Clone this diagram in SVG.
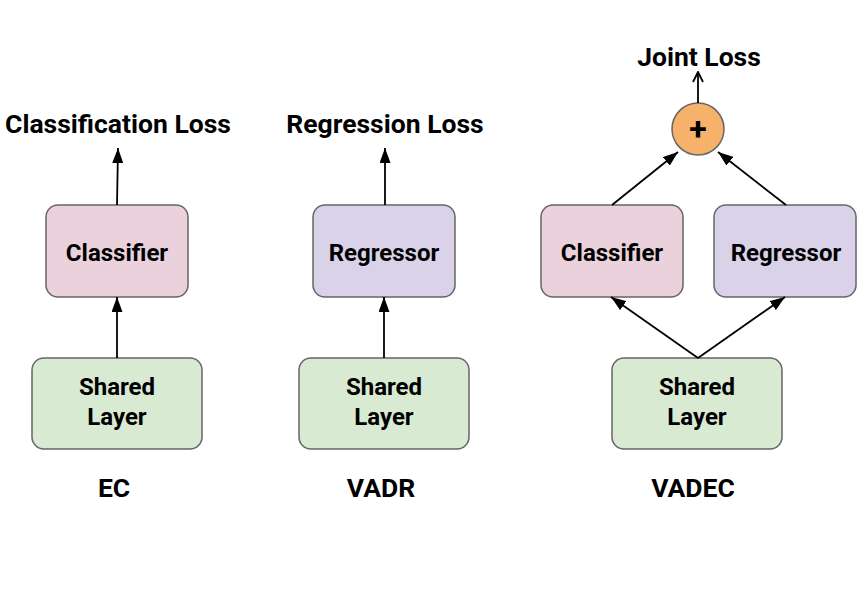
<svg xmlns="http://www.w3.org/2000/svg" width="868" height="615" viewBox="0 0 868 615">
<defs>
<marker id="ah" viewBox="0 0 15 11" refX="15" refY="5.5" markerWidth="15" markerHeight="11" markerUnits="userSpaceOnUse" orient="auto">
<path d="M0,0 L15,5.5 L0,11 Z" fill="#000"/>
</marker>
<marker id="ao" viewBox="0 0 12 12" refX="11" refY="6" markerWidth="12" markerHeight="12" markerUnits="userSpaceOnUse" orient="auto">
<path d="M1,1 L11,6 L1,11" fill="none" stroke="#000" stroke-width="1.8"/>
</marker>
</defs>
<style>
text{font-family:Roboto,"Liberation Sans",sans-serif;font-weight:bold;fill:#000;text-anchor:middle}
.t{font-size:26.5px}
.n{font-size:24px}
.box{stroke:#666;stroke-width:1.5}
.cls{fill:#ead1dc}
.reg{fill:#d9d2e9}
.sh{fill:#d9ead3}
.c line{stroke:#000;stroke-width:1.8;marker-end:url(#ah)}
</style>
<rect width="868" height="615" fill="#fff"/>
<g id="ec-loss"><text class="t" x="118" y="133">Classification Loss</text></g>
<g id="ec-classifier"><rect class="box cls" x="46" y="205" width="142" height="92" rx="12"/><text class="n" x="117" y="261">Classifier</text></g>
<g id="ec-shared"><rect class="box sh" x="32" y="358" width="170" height="91" rx="12"/><text class="n" x="117" y="395">Shared</text><text class="n" x="117" y="425">Layer</text></g>
<g id="ec-label"><text class="t" x="114" y="497">EC</text></g>

<g id="vadr-loss"><text class="t" x="385" y="133">Regression Loss</text></g>
<g id="vadr-regressor"><rect class="box reg" x="313" y="205" width="142" height="92" rx="12"/><text class="n" x="384" y="261">Regressor</text></g>
<g id="vadr-shared"><rect class="box sh" x="299" y="358" width="170" height="91" rx="12"/><text class="n" x="384" y="395">Shared</text><text class="n" x="384" y="425">Layer</text></g>
<g id="vadr-label"><text class="t" x="381" y="497">VADR</text></g>

<g id="vadec-loss"><text class="t" x="699" y="66">Joint Loss</text></g>
<g id="vadec-sum"><circle cx="698" cy="129" r="26" fill="#f6b26b" stroke="#666" stroke-width="1.5"/><text x="698" y="140" style="font-size:32px">+</text></g>
<g id="vadec-classifier"><rect class="box cls" x="541" y="205" width="142" height="92" rx="12"/><text class="n" x="612" y="261">Classifier</text></g>
<g id="vadec-regressor"><rect class="box reg" x="714" y="205" width="142" height="92" rx="12"/><text class="n" x="786" y="261">Regressor</text></g>
<g id="vadec-shared"><rect class="box sh" x="612" y="358" width="170" height="91" rx="12"/><text class="n" x="697" y="395">Shared</text><text class="n" x="697" y="425">Layer</text></g>
<g id="vadec-label"><text class="t" x="693" y="497">VADEC</text></g>

<g id="connectors" class="c">
<line x1="117" y1="205" x2="118" y2="148"/>
<line x1="117" y1="358" x2="117" y2="297"/>
<line x1="385" y1="205" x2="385" y2="148"/>
<line x1="384" y1="358" x2="384" y2="297"/>
<line x1="698" y1="103" x2="698" y2="72" style="marker-end:url(#ao)"/>
<line x1="612" y1="205" x2="678" y2="152"/>
<line x1="786" y1="205" x2="718" y2="152"/>
<line x1="698" y1="358" x2="611" y2="297"/>
<line x1="698" y1="358" x2="785" y2="297"/>
</g>
</svg>
